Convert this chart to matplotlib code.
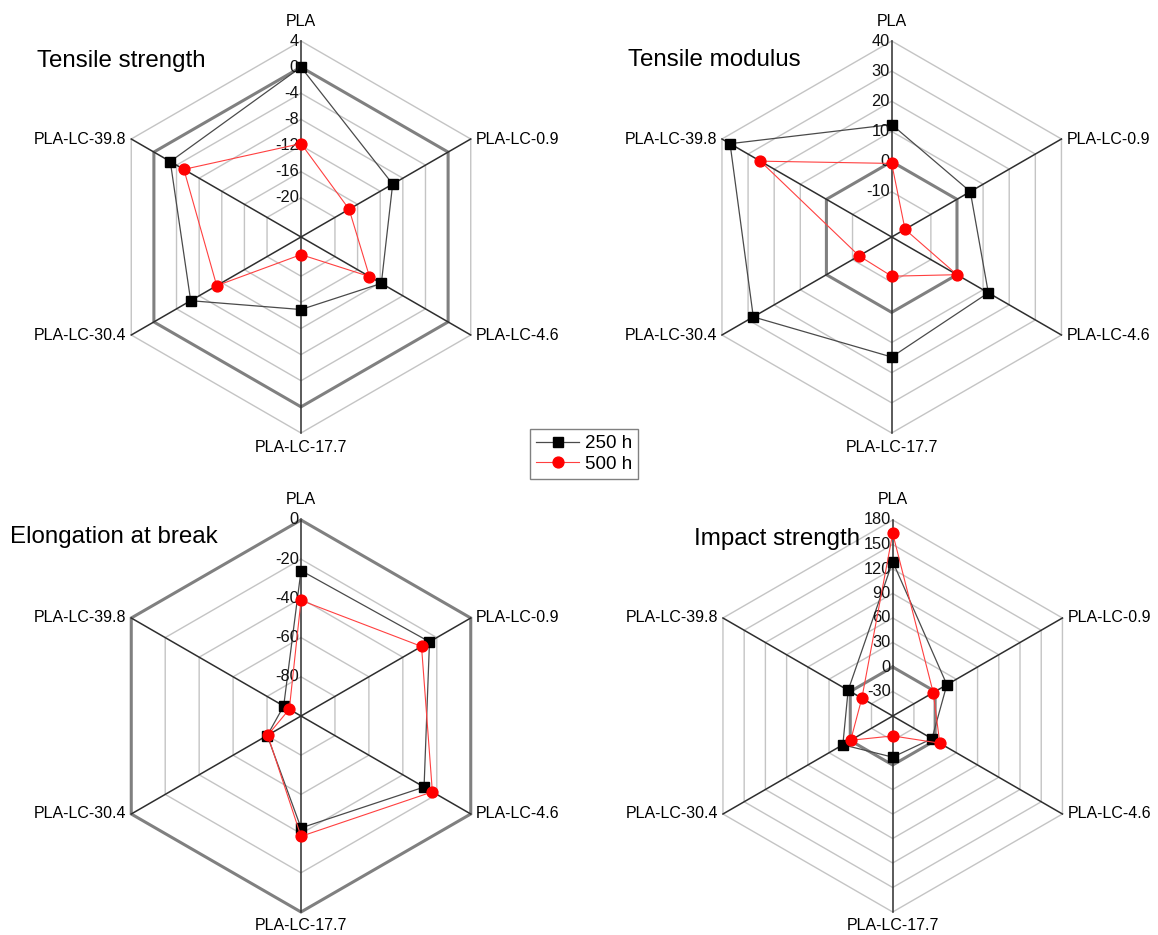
import numpy as np
import matplotlib
matplotlib.use("Agg")
import matplotlib.pyplot as plt
from matplotlib.lines import Line2D

plt.rcParams['font.family'] = ['Liberation Sans', 'DejaVu Sans']

categories = ["PLA", "PLA-LC-0.9", "PLA-LC-4.6", "PLA-LC-17.7", "PLA-LC-30.4", "PLA-LC-39.8"]
series_names = ["250 h", "500 h"]

# tensile strength
ts_250 = [0, -9.8, -11.8, -14.9, -6.5, -2.9]
ts_500 = [-11.7, -17.5, -13.9, -23.3, -11.1, -5.3]
ts_ticks = [4, 0, -4, -8, -12, -16, -20]
ts_range = (-26, 4)

# tensile modulus
tm_250 = [12.3, 5.1, 12.0, 14.8, 28.0, 36.9]
tm_500 = [-0.6, -19.9, 0.0, -12.0, -12.5, 25.3]
tm_ticks = [40, 30, 20, 10, 0, -10]
tm_range = (-25, 40)

# elongation at break
eb_250 = [-25.8, -24.3, -27.5, -42.9, -80.1, -89.8]
eb_500 = [-41.0, -29.0, -22.6, -38.6, -80.4, -93.1]
eb_ticks = [0, -20, -40, -60, -80]
eb_range = (-100, 0)

# impact strength
is_250 = [129.1, 16.6, -4.5, -9.6, 10.5, 3.0]
is_500 = [163.6, -2.7, 6.6, -35.6, -0.6, -16.4]
is_ticks = [180, 150, 120, 90, 60, 30, 0, -30]
is_range = (-60, 180)

W, H = 1158, 935
R = 196.0      # hexagon radius in pixels
HALF = 250.0   # half size of each axes box in pixels
px = 1.0 / R

ang = np.deg2rad(90 - 60 * np.arange(6))
cosa, sina = np.cos(ang), np.sin(ang)

BLK_LINE = '#4a4a4a'
RED_LINE = '#ff4040'


def xy(vals, rmin, rmax):
    r = (np.asarray(vals, float) - rmin) / (rmax - rmin)
    return r * cosa, r * sina


def ring(ax, frac, color, lw, z):
    x = np.append(frac * cosa, frac * cosa[0])
    y = np.append(frac * sina, frac * sina[0])
    ax.plot(x, y, color=color, lw=lw, zorder=z, solid_joinstyle='miter')


def radar(cx, cy, title, title_xy, v250, v500, ticks, rng):
    rmin, rmax = rng
    ax = fig.add_axes([(cx - HALF) / W, (H - cy - HALF) / H, 2 * HALF / W, 2 * HALF / H])
    lim = HALF / R
    ax.set_xlim(-lim, lim)
    ax.set_ylim(-lim, lim)
    ax.axis('off')
    ax.patch.set_alpha(0)

    for t in ticks:
        f = (t - rmin) / (rmax - rmin)
        if t == 0:
            ring(ax, f, '#808080', 2.2, 2)
        else:
            ring(ax, f, '#c4c4c4', 1.0, 1)
        ax.text(-2 * px, f, str(t), ha='right', va='center', fontsize=11.8, color='#111111', zorder=6)

    for i in range(6):
        ax.plot([0, cosa[i]], [0, sina[i]], color='#2e2e2e', lw=1.1, zorder=3)

    x1, y1 = xy(v250, rmin, rmax)
    x2, y2 = xy(v500, rmin, rmax)
    ax.plot(np.append(x1, x1[0]), np.append(y1, y1[0]), color=BLK_LINE, lw=0.9, zorder=4)
    ax.plot(x1, y1, 's', color='black', ms=6.5, zorder=5)
    ax.plot(np.append(x2, x2[0]), np.append(y2, y2[0]), color=RED_LINE, lw=0.8, zorder=6)
    ax.plot(x2, y2, 'o', color='red', ms=7.8, zorder=7)

    fs = 11.5
    ax.text(0, 1 + 20 * px, categories[0], ha='center', va='center', fontsize=fs)
    ax.text(cosa[1] + 5 * px, sina[1], categories[1], ha='left', va='center', fontsize=fs)
    ax.text(cosa[2] + 5 * px, sina[2], categories[2], ha='left', va='center', fontsize=fs)
    ax.text(0, -1 - 14 * px, categories[3], ha='center', va='center', fontsize=fs)
    ax.text(cosa[4] - 5 * px, sina[4], categories[4], ha='right', va='center', fontsize=fs)
    ax.text(cosa[5] - 5 * px, sina[5], categories[5], ha='right', va='center', fontsize=fs)

    fig.text(title_xy[0] / W, 1 - title_xy[1] / H, title, ha='left', va='baseline', fontsize=17.4)
    return ax


fig = plt.figure(figsize=(W / 100, H / 100), dpi=100)

radar(301, 237, "Tensile strength", (37, 66.5), ts_250, ts_500, ts_ticks, ts_range)
radar(891.7, 237, "Tensile modulus", (628, 66.5), tm_250, tm_500, tm_ticks, tm_range)
radar(301, 716, "Elongation at break", (10, 543), eb_250, eb_500, eb_ticks, eb_range)
radar(892.7, 716, "Impact strength", (694, 545), is_250, is_500, is_ticks, is_range)

h1 = Line2D([], [], color=BLK_LINE, lw=0.9, marker='s', mfc='black', mec='black', ms=6.5)
h2 = Line2D([], [], color=RED_LINE, lw=0.8, marker='o', mfc='red', mec='red', ms=7.8)
leg = fig.legend([h1, h2], series_names, loc='center', bbox_to_anchor=(584 / W, 1 - 454 / H),
                 fontsize=13.5, handlelength=2.3, handletextpad=0.3, borderpad=0.3,
                 labelspacing=0.2, fancybox=False, framealpha=1, edgecolor='#808080')
leg.get_frame().set_linewidth(1.0)

fig.savefig("out.png", dpi=100)
